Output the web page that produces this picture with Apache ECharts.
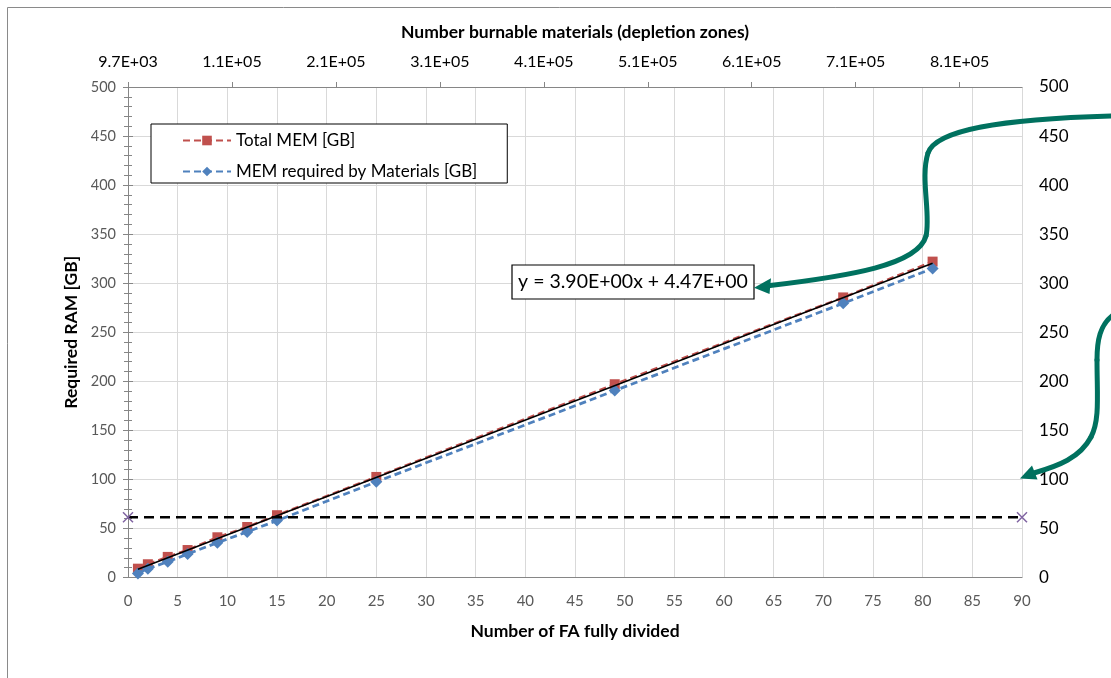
<!DOCTYPE html>
<html>
<head>
<meta charset="utf-8">
<script src="https://cdn.jsdelivr.net/npm/echarts@6/dist/echarts.min.js"></script>
<style>
  html, body { margin: 0; padding: 0; background: #ffffff; }
  #chart { width: 1111px; height: 678px; }
</style>
</head>
<body>
<div id="chart"></div>
<script>
// Number of fuel assemblies fully divided into depletion zones
const faCount = [1, 2, 4, 6, 9, 12, 15, 25, 49, 72, 81];
// Memory demand in GB
const totalMem = [9, 13.5, 21, 28, 41, 51.5, 63.5, 102.5, 197, 285.5, 322];
const materialsMem = [4, 9, 16, 24, 35.5, 46.5, 58, 97.5, 190.5, 279.5, 315];
// Linear fit of total memory: slope, intercept
const trendCoef = [3.90, 4.47];
// Available RAM limit (horizontal reference line) and its x extent
const ramLimit = 61.5;
const limitRange = [0, 90];
// Secondary (top) axis tick labels: burnable materials count
const topTickLabels = ['9.7E+03', '1.1E+05', '2.1E+05', '3.1E+05', '4.1E+05', '5.1E+05', '6.1E+05', '7.1E+05', '8.1E+05'];
const topAxisMax = 8.6; // span of the top axis in steps of 1E+05 from 9.7E+03

const seriesNames = ['Total MEM [GB]', 'MEM required by Materials [GB]'];

function fmtE(v) {
  const parts = v.toExponential(2).split('e');
  const n = parseInt(parts[1], 10);
  return parts[0] + 'E' + (n < 0 ? '-' : '+') + String(Math.abs(n)).padStart(2, '0');
}
const eqText = 'y = ' + fmtE(trendCoef[0]) + 'x + ' + fmtE(trendCoef[1]);

const FONT = 'Lato';
const GRID_LINE = '#d9d9d9';
const AXIS_LINE = '#868686';
const TEAL = '#00715f';
const TITLE_STYLE = { fontFamily: FONT, fontWeight: 'bold', fontSize: 17.5, color: '#000000' };

const xFirst = faCount[0];
const xLast = faCount[faCount.length - 1];
const trendData = [
  [xFirst, trendCoef[0] * xFirst + trendCoef[1]],
  [xLast, trendCoef[0] * xLast + trendCoef[1]]
];

const chart = echarts.init(document.getElementById('chart'), null, { renderer: 'canvas' });

const option = {
  animation: false,
  backgroundColor: '#ffffff',
  textStyle: { fontFamily: FONT },
  grid: { left: 128, right: 89, top: 87, bottom: 100.5, containLabel: false, outerBoundsMode: 'none' },
  legend: {
    data: seriesNames,
    orient: 'vertical',
    left: 151,
    top: 124,
    itemWidth: 48,
    itemHeight: 12,
    itemGap: 12,
    padding: [7, 30, 2, 31],
    borderColor: '#000000',
    borderWidth: 1,
    backgroundColor: '#ffffff',
    textStyle: { fontFamily: FONT, fontSize: 17, color: '#000000', lineHeight: 19 }
  },
  xAxis: [
    {
      type: 'value',
      position: 'bottom',
      min: 0, max: 90, interval: 5,
      name: 'Number of FA fully divided',
      nameLocation: 'middle',
      nameGap: 45,
      nameTextStyle: TITLE_STYLE,
      axisLine: { show: true, lineStyle: { color: AXIS_LINE, width: 1 } },
      axisTick: { show: false },
      axisLabel: { fontFamily: FONT, fontSize: 15, color: '#595959', margin: 16 },
      splitLine: { show: true, lineStyle: { color: GRID_LINE, width: 1 } }
    },
    {
      type: 'value',
      position: 'top',
      min: 0, max: topAxisMax, interval: 1,
      name: 'Number burnable materials (depletion zones)',
      nameLocation: 'middle',
      nameGap: 46,
      nameTextStyle: TITLE_STYLE,
      axisLine: { show: true, onZero: false, lineStyle: { color: AXIS_LINE, width: 1 } },
      axisTick: { show: true, inside: false, length: 5, lineStyle: { color: AXIS_LINE } },
      axisLabel: {
        fontFamily: FONT, fontSize: 16, color: '#000000', margin: 17,
        showMaxLabel: false,
        formatter: function (v) {
          const i = Math.round(v);
          if (Math.abs(v - i) > 1e-6) return '';
          return topTickLabels[i] || '';
        }
      },
      splitLine: { show: false }
    }
  ],
  yAxis: [
    {
      type: 'value',
      position: 'left',
      min: 0, max: 500, interval: 50,
      name: 'Required RAM [GB]',
      nameLocation: 'middle',
      nameGap: 45,
      nameTextStyle: TITLE_STYLE,
      axisLine: { show: true, lineStyle: { color: AXIS_LINE, width: 1 } },
      axisTick: { show: true, inside: true, length: 5, lineStyle: { color: AXIS_LINE } },
      minorTick: { show: true, splitNumber: 5, length: 4, lineStyle: { color: AXIS_LINE } },
      axisLabel: { fontFamily: FONT, fontSize: 14.5, color: '#595959', margin: 12 },
      splitLine: { show: true, lineStyle: { color: GRID_LINE, width: 1 } }
    },
    {
      type: 'value',
      position: 'right',
      min: 0, max: 500, interval: 50,
      axisLine: { show: true, lineStyle: { color: AXIS_LINE, width: 1 } },
      axisTick: { show: true, inside: true, length: 5, lineStyle: { color: AXIS_LINE } },
      minorTick: { show: true, splitNumber: 5, length: 4, lineStyle: { color: AXIS_LINE } },
      axisLabel: { fontFamily: FONT, fontSize: 17, color: '#000000', margin: 17 },
      splitLine: { show: false }
    }
  ],
  series: [
    {
      name: seriesNames[0],
      type: 'line',
      xAxisIndex: 0, yAxisIndex: 0,
      data: faCount.map((x, i) => [x, totalMem[i]]),
      symbol: 'rect',
      symbolSize: 10,
      itemStyle: { color: '#c0504d' },
      lineStyle: { color: '#c0504d', width: 2.5, type: [7, 4] },
      z: 2
    },
    {
      name: seriesNames[1],
      type: 'line',
      xAxisIndex: 0, yAxisIndex: 0,
      data: faCount.map((x, i) => [x, materialsMem[i]]),
      symbol: 'diamond',
      symbolSize: 12,
      itemStyle: { color: '#4f81bd' },
      lineStyle: { color: '#4f81bd', width: 2.75, type: [7, 4] },
      z: 3
    },
    {
      name: 'trend',
      type: 'line',
      xAxisIndex: 0, yAxisIndex: 0,
      data: trendData,
      symbol: 'none',
      silent: true,
      lineStyle: { color: '#000000', width: 1.5 },
      z: 5
    },
    {
      name: 'limit',
      type: 'line',
      xAxisIndex: 0, yAxisIndex: 0,
      data: limitRange.map(x => [x, ramLimit]),
      clip: false,
      symbol: 'path://M0,0L10,10M10,0L0,10',
      symbolSize: 10,
      itemStyle: { color: 'none', borderColor: '#8064a2', borderWidth: 1.5 },
      lineStyle: { color: '#000000', width: 2.5, type: [10, 6] },
      z: 4
    }
  ],
  graphic: [
    // outer chart frame
    {
      type: 'rect', silent: true, z: 0,
      shape: { x: 7.5, y: 7.5, width: 1300, height: 900 },
      style: { fill: 'none', stroke: '#8a8a8a', lineWidth: 1 }
    },
    // fit equation box
    {
      type: 'rect', silent: true, z: 20,
      shape: { x: 512, y: 265, width: 242, height: 34 },
      style: { fill: '#ffffff', stroke: '#000000', lineWidth: 1.2 }
    },
    {
      type: 'text', silent: true, z: 21,
      x: 633, y: 282,
      style: { text: eqText, fontFamily: FONT, fontSize: 19.5, fill: '#000000', align: 'center', verticalAlign: 'middle' }
    },
    // arrow pointing at the fit equation
    { type: 'bezierCurve', silent: true, z: 22,
      shape: { x1: 1112, y1: 116, cpx1: 1000, cpy1: 119, cpx2: 936, cpy2: 130, x2: 928, y2: 153 },
      style: { stroke: TEAL, lineWidth: 5, fill: 'none', lineCap: 'round' } },
    { type: 'bezierCurve', silent: true, z: 22,
      shape: { x1: 928, y1: 153, cpx1: 920, cpy1: 178, cpx2: 931, cpy2: 214, x2: 926, y2: 236 },
      style: { stroke: TEAL, lineWidth: 5, fill: 'none', lineCap: 'round' } },
    { type: 'bezierCurve', silent: true, z: 22,
      shape: { x1: 926, y1: 236, cpx1: 918, cpy1: 265, cpx2: 850, cpy2: 276, x2: 768, y2: 285.8 },
      style: { stroke: TEAL, lineWidth: 5, fill: 'none', lineCap: 'round' } },
    { type: 'polygon', silent: true, z: 22,
      shape: { points: [[754, 287.8], [771, 278.3], [769.5, 294]] },
      style: { fill: TEAL } },
    // arrow pointing at the right axis
    { type: 'bezierCurve', silent: true, z: 22,
      shape: { x1: 1113, y1: 315, cpx1: 1100, cpy1: 325, cpx2: 1097, cpy2: 340, x2: 1097, y2: 360 },
      style: { stroke: TEAL, lineWidth: 5, fill: 'none', lineCap: 'round' } },
    { type: 'bezierCurve', silent: true, z: 22,
      shape: { x1: 1097, y1: 360, cpx1: 1097, cpy1: 395, cpx2: 1100, cpy2: 420, x2: 1091, y2: 437 },
      style: { stroke: TEAL, lineWidth: 5, fill: 'none', lineCap: 'round' } },
    { type: 'bezierCurve', silent: true, z: 22,
      shape: { x1: 1091, y1: 437, cpx1: 1080, cpy1: 458, cpx2: 1058, cpy2: 466, x2: 1034, y2: 473 },
      style: { stroke: TEAL, lineWidth: 5, fill: 'none', lineCap: 'round' } },
    { type: 'polygon', silent: true, z: 22,
      shape: { points: [[1020, 478.5], [1037.5, 479.5], [1032, 465.5]] },
      style: { fill: TEAL } }
  ]
};

chart.setOption(option);
</script>
</body>
</html>
